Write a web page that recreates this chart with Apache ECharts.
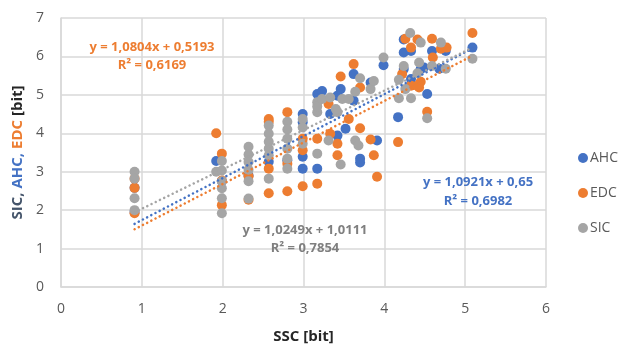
<!DOCTYPE html>
<html>
<head>
<meta charset="utf-8">
<script src="https://cdn.jsdelivr.net/npm/echarts@6/dist/echarts.min.js"></script>
<style>
  html, body { margin: 0; padding: 0; background: #fff; }
  #chart { width: 621px; height: 349px; }
</style>
</head>
<body>
<div id="chart"></div>
<script>
// values: [SSC, metric]
const ahc = [
  [0.91, 1.95], [0.91, 2.58], [1.92, 3.28], [1.99, 2.75], [2.32, 2.9], [2.57, 3.26],
  [2.8, 3.3], [2.99, 4.5], [2.99, 4.29], [2.99, 3.39], [2.99, 3.08], [3.17, 5.02],
  [3.17, 3.08], [3.23, 5.1], [3.33, 4.5], [3.42, 4.98], [3.42, 3.94], [3.46, 5.15],
  [3.52, 4.12], [3.62, 5.54], [3.62, 4.85], [3.7, 3.34], [3.7, 3.24], [3.83, 5.32],
  [3.91, 3.81], [3.99, 5.77], [4.17, 4.42], [4.24, 6.44], [4.24, 6.1], [4.24, 5.67],
  [4.33, 6.14], [4.33, 5.41], [4.45, 5.67], [4.49, 5.71], [4.53, 5.02], [4.59, 6.14],
  [4.68, 5.68], [4.76, 6.14], [5.09, 6.23]
];
const edc = [
  [0.91, 2.58], [0.91, 2.82], [0.91, 1.92], [1.92, 4.0], [1.99, 3.47], [1.99, 2.77],
  [1.99, 2.13], [2.32, 2.27], [2.32, 2.88], [2.57, 4.37], [2.57, 4.3], [2.57, 3.08],
  [2.57, 2.44], [2.8, 4.55], [2.8, 3.21], [2.8, 2.49], [2.99, 3.86], [2.99, 3.56],
  [2.99, 2.62], [3.17, 3.86], [3.17, 2.69], [3.31, 4.76], [3.33, 3.99], [3.42, 3.73],
  [3.42, 3.43], [3.46, 5.48], [3.56, 4.37], [3.62, 5.8], [3.7, 5.19], [3.7, 4.13],
  [3.83, 3.84], [3.87, 3.43], [3.91, 2.87], [4.17, 3.77], [4.22, 5.54], [4.26, 6.46],
  [4.33, 6.23], [4.33, 5.24], [4.41, 6.44], [4.43, 5.19], [4.45, 5.34], [4.41, 5.24],
  [4.53, 4.56], [4.59, 6.46], [4.6, 5.97], [4.7, 6.2], [4.77, 6.23], [5.09, 6.61]
];
const sic = [
  [0.91, 3.0], [0.91, 2.82], [0.91, 2.31], [0.91, 2.0], [1.92, 3.0], [1.99, 3.28],
  [1.99, 3.03], [1.99, 2.75], [1.99, 2.57], [1.99, 2.31], [1.99, 1.92], [2.32, 3.65],
  [2.32, 3.45], [2.32, 3.25], [2.32, 3.05], [2.32, 2.75], [2.32, 2.3], [2.57, 4.2],
  [2.57, 3.99], [2.57, 3.78], [2.57, 3.6], [2.57, 3.43], [2.57, 2.82], [2.8, 4.3],
  [2.8, 4.1], [2.8, 3.86], [2.8, 3.6], [2.8, 3.34], [2.8, 3.08], [2.99, 4.37],
  [2.99, 4.15], [2.99, 3.73], [3.17, 4.81], [3.17, 4.55], [3.17, 4.7], [3.17, 3.47],
  [3.23, 4.89], [3.33, 4.93], [3.31, 3.81], [3.4, 4.63], [3.42, 4.55], [3.46, 3.19],
  [3.48, 4.89], [3.56, 4.89], [3.64, 5.08], [3.64, 3.81], [3.68, 3.68], [3.7, 5.43],
  [3.83, 5.15], [3.87, 5.36], [3.99, 5.97], [4.18, 5.39], [4.18, 4.91], [4.24, 5.75],
  [4.26, 5.15], [4.32, 6.61], [4.33, 4.91], [4.41, 5.56], [4.43, 5.84], [4.45, 6.36],
  [4.53, 4.39], [4.59, 5.75], [4.7, 6.36], [4.76, 5.68], [5.09, 5.94]
];

// linear trendlines as printed on the chart: [slope, intercept]
const trendAhc = [1.0921, 0.65];
const trendEdc = [1.0804, 0.5193];
const trendSic = [1.0249, 1.0111];
const trendRange = [0.91, 5.09];

const xTicks = [0, 1, 2, 3, 4, 5, 6];
const yTicks = [0, 1, 2, 3, 4, 5, 6, 7];

const BLUE = "#4472C4";
const ORANGE = "#ED7D31";
const GRAY = "#A5A5A5";
const FONT = "'Open Sans', sans-serif";

const trend = (t) => trendRange.map((x) => [x, t[0] * x + t[1]]);

const chart = echarts.init(document.getElementById("chart"));

const scatter = (name, data, color) => ({
  name,
  type: "scatter",
  data,
  symbolSize: 10,
  itemStyle: { color, opacity: 1 },
  z: 2
});

const line = (name, t, color) => ({
  name,
  type: "line",
  data: trend(t),
  symbol: "none",
  silent: true,
  lineStyle: { color, width: 2.5, type: [0.1, 4.6], cap: "round" },
  z: 5
});

// centred label text placed in pixels
const label = (x, y, text, fill) => ({
  type: "text",
  x,
  y,
  z: 10,
  style: { text, fill, font: "bold 13px " + FONT, align: "center", verticalAlign: "middle" }
});

chart.setOption({
  animation: false,
  backgroundColor: "#fff",
  textStyle: { fontFamily: FONT },
  grid: { left: 61, right: 75, top: 18, bottom: 60 },
  legend: {
    data: ["AHC", "EDC", "SIC"],
    orient: "vertical",
    left: 573,
    top: 146,
    icon: "circle",
    itemWidth: 10,
    itemHeight: 10,
    itemGap: 21,
    textStyle: { color: "#595959", fontSize: 14, fontFamily: FONT, padding: [0, 0, 0, -3] }
  },
  xAxis: {
    type: "value",
    min: xTicks[0],
    max: xTicks[xTicks.length - 1],
    interval: 1,
    name: "SSC [bit]",
    nameLocation: "middle",
    nameGap: 42,
    nameTextStyle: { color: "#262626", fontWeight: "bold", fontSize: 15, fontFamily: FONT },
    axisLine: { show: true, lineStyle: { color: "#D9D9D9", width: 1.5 } },
    axisTick: { show: false },
    axisLabel: { color: "#595959", fontSize: 14, margin: 15, fontFamily: FONT },
    splitLine: { lineStyle: { color: "#D9D9D9", width: 1.5 } }
  },
  yAxis: {
    type: "value",
    min: yTicks[0],
    max: yTicks[yTicks.length - 1],
    interval: 1,
    name: "{s|SIC,} {a|AHC,} {e|EDC} {b|[bit]}",
    nameLocation: "middle",
    nameRotate: 90,
    nameGap: 36,
    nameTextStyle: {
      fontWeight: "bold",
      fontSize: 15,
      rich: {
        s: { color: "#44546A", fontWeight: "bold", fontSize: 15, fontFamily: FONT },
        a: { color: BLUE, fontWeight: "bold", fontSize: 15, fontFamily: FONT },
        e: { color: ORANGE, fontWeight: "bold", fontSize: 15, fontFamily: FONT },
        b: { color: "#262626", fontWeight: "bold", fontSize: 15, fontFamily: FONT }
      }
    },
    axisLine: { show: true, lineStyle: { color: "#D9D9D9", width: 1.5 } },
    axisTick: { show: false },
    axisLabel: { color: "#595959", fontSize: 14, margin: 17, fontFamily: FONT },
    splitLine: { lineStyle: { color: "#D9D9D9", width: 1.5 } }
  },
  graphic: [
    label(152, 47, "y = 1,0804x + 0,5193", ORANGE),
    label(152, 65, "R² = 0,6169", ORANGE),
    label(478, 182, "y = 1,0921x + 0,65", BLUE),
    label(478, 201, "R² = 0,6982", BLUE),
    label(305, 230, "y = 1,0249x + 1,0111", "#7F7F7F"),
    label(305, 248, "R² = 0,7854", "#7F7F7F")
  ],
  series: [
    scatter("AHC", ahc, BLUE),
    scatter("EDC", edc, ORANGE),
    scatter("SIC", sic, GRAY),
    line("AHC trend", trendAhc, BLUE),
    line("EDC trend", trendEdc, ORANGE),
    line("SIC trend", trendSic, GRAY)
  ]
});
</script>
</body>
</html>
